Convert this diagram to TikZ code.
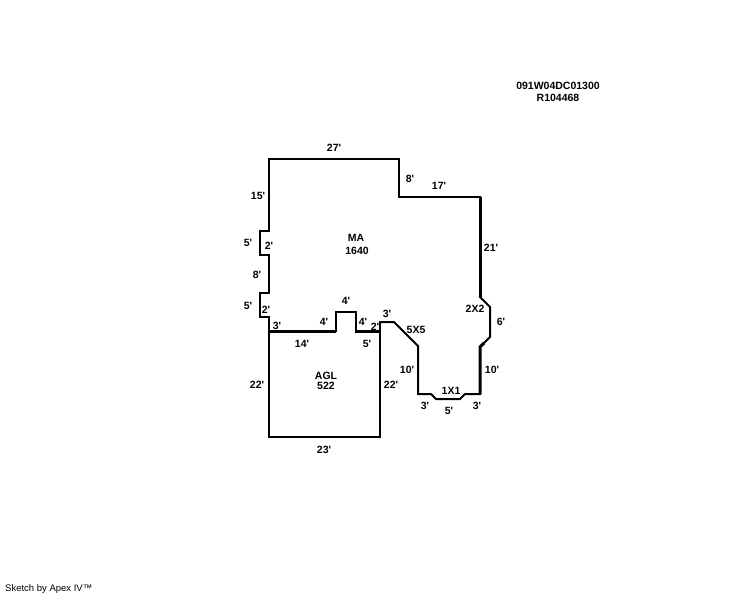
\documentclass[tikz,border=0pt]{standalone}
\usepackage{fontspec}
\setmainfont[Ligatures=TeXOff]{Liberation Sans}
\tikzset{
  x=1pt,y=-1pt,
  wall/.style={line width=2pt,line join=miter,line cap=rect},
  heavy/.style={line width=3pt,line join=miter},
  lbl/.style={inner sep=0pt,yshift=-0.6pt,font=\fontsize{10.5}{12}\selectfont\bfseries},
  foot/.style={inner sep=0pt,anchor=west,font=\fontsize{9.5}{11}\selectfont}
}
\begin{document}
\begin{tikzpicture}
\useasboundingbox (0,0) rectangle (744,595);
% MA outline
\draw[wall] (269,331) -- (269,317) -- (260,317) -- (260,293) -- (269,293) -- (269,255) -- (260,255) -- (260,231) -- (269,231) -- (269,159) -- (399,159) -- (399,197) -- (480,197);
\draw[heavy] (480,197) -- (480,297);
\draw[wall] (480,297) -- (490,307) -- (490,337) -- (482,345);
\draw[heavy] (484,343) -- (480,347) -- (480,394);
\draw[wall] (480,394) -- (465,394) -- (460,399) -- (436,399) -- (431,394) -- (418,394) -- (418,346) -- (394,322) -- (380,322);
% AGL outline
\draw[wall] (380,322) -- (380,437) -- (269,437) -- (269,331);
\draw[heavy] (269,331) -- (336,331);
\draw[wall] (336,331) -- (336,312) -- (356,312) -- (356,331);
\draw[heavy] (355,331) -- (380,331);
% Labels
\node[lbl] (a1) at (334,147) {27'};
\node[lbl] (a2) at (410,178) {8'};
\node[lbl] (a3) at (439,185) {17'};
\node[lbl] (a4) at (258,195) {15'};
\node[lbl] (a5) at (248,242) {5'};
\node[lbl] (a6) at (269,245) {2'};
\node[lbl] (a7) at (257,274) {8'};
\node[lbl] (a8) at (248,305) {5'};
\node[lbl] (a9) at (266,309) {2'};
\node[lbl] (a10) at (277,325) {3'};
\node[lbl] (a11) at (324,321) {4'};
\node[lbl] (a12) at (302,343) {14'};
\node[lbl] (a13) at (346,300) {4'};
\node[lbl] (a14) at (363,321) {4'};
\node[lbl] (a15) at (375,326) {2'};
\node[lbl] (a16) at (387,313) {3'};
\node[lbl] (a17) at (367,343) {5'};
\node[lbl] (a18) at (416,329) {5X5};
\node[lbl] (a19) at (407,369) {10'};
\node[lbl] (a20) at (391,384) {22'};
\node[lbl] (a21) at (491,247) {21'};
\node[lbl] (a22) at (475,308) {2X2};
\node[lbl] (a23) at (501,321) {6'};
\node[lbl] (a24) at (492,369) {10'};
\node[lbl] (a25) at (451,390) {1X1};
\node[lbl] (a26) at (425,405) {3'};
\node[lbl] (a27) at (449,410) {5'};
\node[lbl] (a28) at (477,405) {3'};
\node[lbl] (a29) at (257,384) {22'};
\node[lbl] (a30) at (324,449) {23'};
\node[lbl] (ma) at (356,237) {MA};
\node[lbl] (maa) at (357,250) {1640};
\node[lbl] (agl) at (326,375) {AGL};
\node[lbl] (agla) at (326,385) {522};
\node[lbl] (h1) at (558,85) {091W04DC01300};
\node[lbl] (h2) at (558,97) {R104468};
\node[foot] (s) at (5,589) {Sketch by Apex IV™};
\end{tikzpicture}
\end{document}
